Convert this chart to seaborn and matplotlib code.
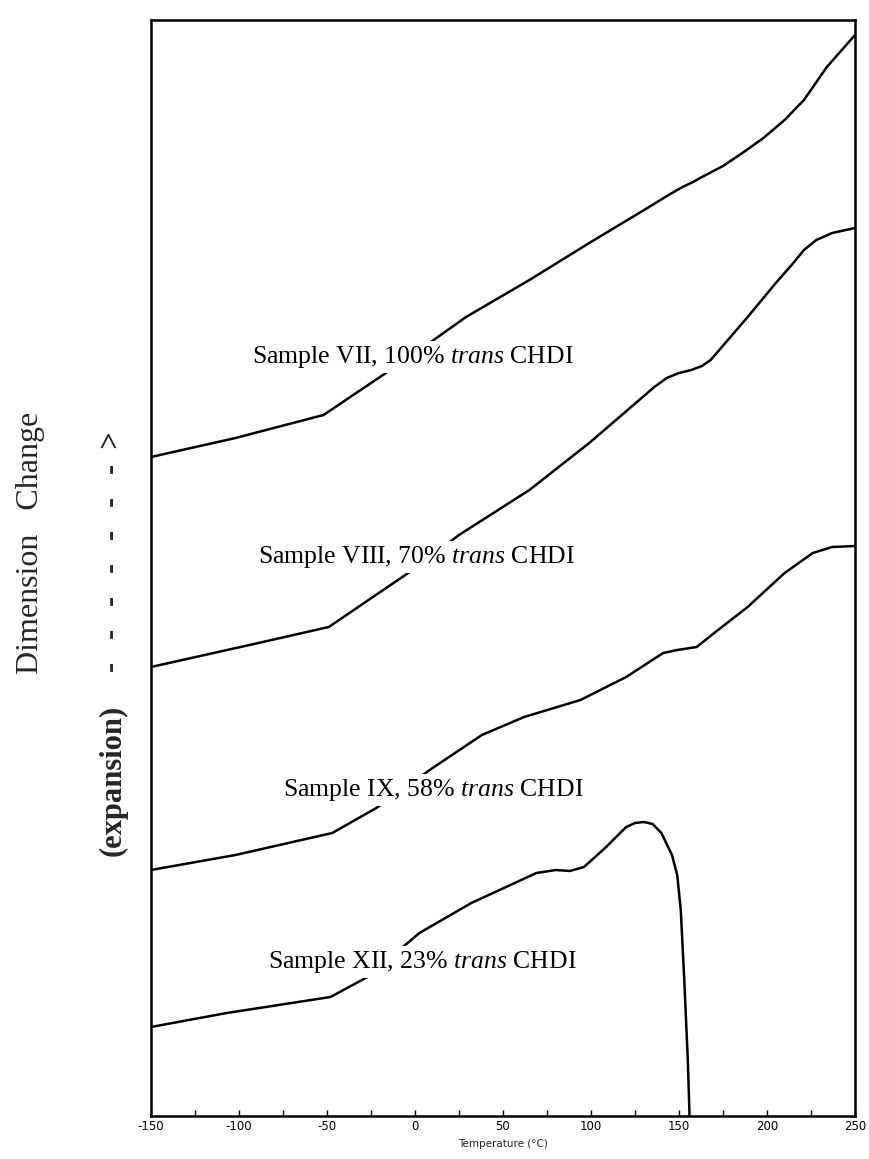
import matplotlib
matplotlib.use("Agg")
import matplotlib.pyplot as plt
import seaborn as sns
import numpy as np

# ---- data (temperature in °C, dimension change in arbitrary units) ----
t_vii = [-150, -102, -52, -3, 29, 65, 99, 133, 145, 152, 158, 162, 175, 186, 198, 210, 221, 234, 250]
d_vii = [65.9, 67.8, 70.1, 75.9, 79.9, 83.6, 87.3, 90.9, 92.2, 92.9, 93.4, 93.8, 95.0, 96.3, 97.8, 99.6, 101.6, 104.9, 108.1]

t_viii = [-150, -89, -49, -3, 25, 65, 99, 136, 143, 150, 157, 163, 168, 189, 205, 214, 221, 228, 237, 250]
d_viii = [44.9, 47.3, 48.9, 54.4, 58.1, 62.6, 67.3, 72.9, 73.8, 74.3, 74.6, 75.0, 75.6, 79.9, 83.3, 85.1, 86.6, 87.6, 88.3, 88.8]

t_ix = [-150, -102, -47, -22, 10, 38, 62, 94, 120, 141, 149, 160, 170, 189, 210, 226, 237, 250]
d_ix = [24.6, 26.1, 28.3, 30.8, 34.8, 38.1, 39.9, 41.6, 43.9, 46.3, 46.6, 46.9, 48.3, 50.9, 54.3, 56.3, 56.9, 57.0]

t_xii = [-150, -107, -48, -27, 2.5, 32, 69, 80, 88, 96, 108, 120, 125, 130, 135, 140, 146, 149, 151, 153, 155, 156]
d_xii = [8.9, 10.3, 11.9, 13.9, 18.3, 21.3, 24.3, 24.6, 24.5, 24.9, 26.8, 28.9, 29.3, 29.4, 29.2, 28.3, 26.1, 24.1, 20.6, 13.6, 5.6, 0.0]

labels = ["Sample VII, 100% $\\it{trans}$ CHDI",
          "Sample VIII, 70% $\\it{trans}$ CHDI",
          "Sample IX, 58% $\\it{trans}$ CHDI",
          "Sample XII, 23% $\\it{trans}$ CHDI"]
label_t = [-92.6, -89.2, -75.0, -83.5]
label_d = [75.9, 55.9, 32.6, 15.4]

x_ticks = [-150, -100, -50, 0, 50, 100, 150, 200, 250]

# ---- style ----
sns.set_theme(style="white")
plt.rcParams["font.family"] = ["Liberation Serif", "DejaVu Serif"]
plt.rcParams["mathtext.fontset"] = "custom"
plt.rcParams["mathtext.rm"] = "Liberation Serif"
plt.rcParams["mathtext.it"] = "Liberation Serif:italic"

fig = plt.figure(figsize=(8.7, 11.59), dpi=100)
ax = fig.add_axes([151 / 870, (1159 - 1116) / 1159, (855 - 151) / 870, (1116 - 20) / 1159])

for t, d in [(t_vii, d_vii), (t_viii, d_viii), (t_ix, d_ix), (t_xii, d_xii)]:
    sns.lineplot(x=t, y=d, ax=ax, color="black", linewidth=1.8, sort=False,
                 estimator=None, legend=False)

for lab, lt, ld in zip(labels, label_t, label_d):
    ax.text(lt, ld, lab, fontsize=18.5, ha="left", va="center", color="black",
            bbox=dict(facecolor="white", edgecolor="none", pad=2), zorder=5)

ax.set_xlim(-150, 250)
ax.set_ylim(0, (1116 - 20) / 10)
ax.set_xticks(x_ticks)
ax.set_xticklabels([str(v) for v in x_ticks], fontfamily="DejaVu Sans", fontsize=8.5)
ax.set_xticks(np.arange(-125, 250, 50), minor=True)
ax.tick_params(axis="x", which="both", direction="in", length=4, width=1, pad=3,
               bottom=True, colors="black")
ax.tick_params(axis="y", left=False, labelleft=False)
for s in ax.spines.values():
    s.set_color("black")
    s.set_linewidth(1.8)

ax.set_xlabel("Temperature (°C)", fontfamily="DejaVu Sans", fontsize=7.5, labelpad=4)
ax.set_ylabel("")

fig.text(31 / 870, 1 - 543 / 1159, "Dimension   Change", rotation=90, fontsize=23,
         ha="center", va="center", family="Liberation Serif")
fig.text(113 / 870, 1 - 780 / 1159, "(expansion)", rotation=90,
         fontsize=22, fontweight="bold", ha="center", va="center", family="Liberation Serif")
fig.text(113 / 870, 1 - 552 / 1159, "-   -   -   -   -   -   -  >", rotation=90,
         fontsize=22, fontweight="bold", ha="center", va="center", family="Liberation Serif")

fig.savefig("out.png", dpi=100, facecolor="white")
